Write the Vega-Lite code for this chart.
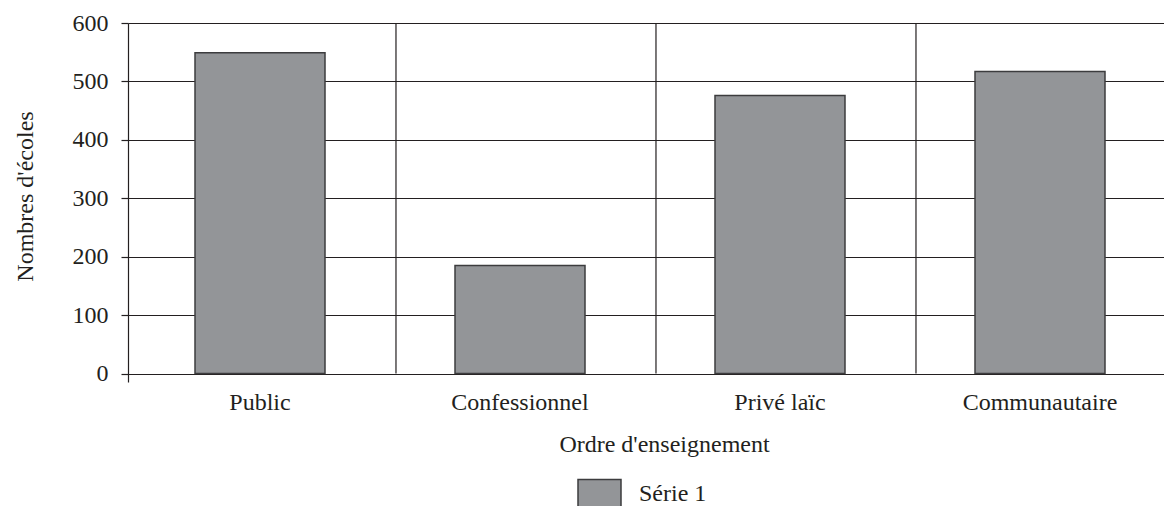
{
  "$schema": "https://vega.github.io/schema/vega-lite/v6.json",
  "autosize": {"type": "none"},
  "padding": {"left": 128, "top": 23, "right": 0, "bottom": 124},
  "width": 1044,
  "height": 359,
  "background": "white",
  "config": {
    "view": {"stroke": null},
    "font": "Liberation Serif",
    "axis": {"labelFont": "Liberation Serif", "titleFont": "Liberation Serif", "labelColor": "#231f20", "titleColor": "#231f20", "titleFontWeight": "normal"},
    "legend": {"labelFont": "Liberation Serif"}
  },
  "data": {
    "values": [
      {"ordre": "Public", "ecoles": 549, "serie": "Série 1"},
      {"ordre": "Confessionnel", "ecoles": 185, "serie": "Série 1"},
      {"ordre": "Privé laïc", "ecoles": 476, "serie": "Série 1"},
      {"ordre": "Communautaire", "ecoles": 517, "serie": "Série 1"}
    ]
  },
  "layer": [
    {
      "mark": {"type": "bar", "stroke": "#3c3c3e", "strokeWidth": 1.5},
      "encoding": {
        "x": {
          "field": "ordre", "type": "nominal", "sort": null,
          "scale": {"paddingInner": 0.5, "paddingOuter": 0.2577},
          "axis": {
            "title": "Ordre d'enseignement", "labelAngle": 0, "labelFontSize": 24, "titleFontSize": 24,
            "domain": false, "ticks": false, "tickSize": 0, "grid": false,
            "labelBaseline": "alphabetic", "labelPadding": 27,
            "titleX": 536, "titleY": 69, "titleBaseline": "alphabetic", "titleAlign": "center"
          }
        },
        "y": {
          "field": "ecoles", "type": "quantitative",
          "scale": {"domain": [-14.5, 600], "nice": false, "zero": false},
          "axis": {
            "title": "Nombres d'écoles", "values": [0, 100, 200, 300, 400, 500, 600],
            "labelFontSize": 24, "titleFontSize": 24,
            "grid": true, "gridColor": "#231f20", "gridWidth": 1.2, "gridOpacity": 1,
            "domain": true, "domainColor": "#231f20", "domainWidth": 1.2,
            "ticks": true, "tickSize": 7, "tickColor": "#231f20", "tickWidth": 1.2,
            "labelPadding": 13, "labelBaseline": "middle",
            "titleX": -103, "titleY": 173, "titleAngle": 270, "titleBaseline": "middle", "titleAlign": "center"
          }
        },
        "y2": {"datum": 0},
        "color": {
          "field": "serie", "type": "nominal",
          "scale": {"range": ["#939598"]},
          "legend": {
            "title": null, "orient": "none", "legendX": 449, "legendY": 448,
            "padding": 0, "symbolType": "M-1,-0.65H1V0.65H-1Z", "symbolSize": 1849,
            "symbolStrokeColor": "#3c3c3e", "symbolStrokeWidth": 1.5, "symbolFillColor": "#939598", "symbolOpacity": 1,
            "labelFontSize": 24, "labelColor": "#231f20", "labelOffset": 17
          }
        }
      }
    },
    {
      "transform": [{"filter": "datum.ordre != 'Communautaire'"}],
      "mark": {"type": "rule", "color": "#231f20", "strokeWidth": 1.2},
      "encoding": {
        "x": {"field": "ordre", "type": "nominal", "sort": null, "bandPosition": 1.546},
        "y": {"datum": 0},
        "y2": {"datum": 600}
      }
    }
  ]
}
